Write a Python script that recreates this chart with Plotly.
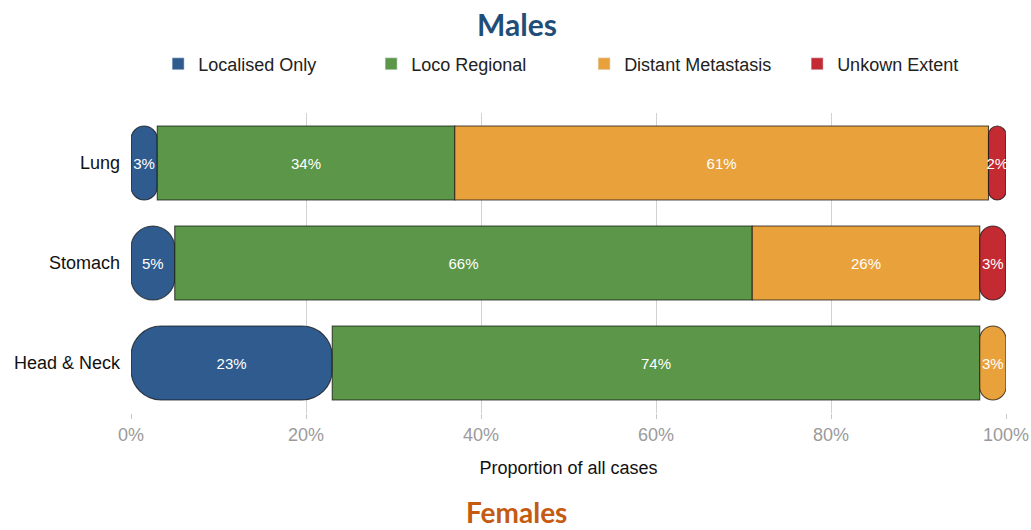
import plotly.graph_objects as go

# Stage at diagnosis, males (proportion of all cases, %)
categories = ["Lung", "Stomach", "Head & Neck"]
series_names = ["Localised Only", "Loco Regional", "Distant Metastasis", "Unkown Extent"]
localised_only = [3, 5, 23]
loco_regional = [34, 66, 74]
distant_metastasis = [61, 26, 3]
unknown_extent = [2, 3, 0]
x_ticks = [0, 20, 40, 60, 80, 100]

series_values = [localised_only, loco_regional, distant_metastasis, unknown_extent]
series_colors = ["#2f5b8e", "#5b9649", "#e9a23b", "#c42a32"]

RADIUS = 30
font = "Liberation Sans, Arial, sans-serif"

# last non-empty segment of every row, so it can get the rounded right end
row_last = []
for i in range(len(categories)):
    last = None
    for s, values in enumerate(series_values):
        if values[i] > 0:
            last = s
    row_last.append(last)

fig = go.Figure()

# legend-only entries, plain squares
for name, color in zip(series_names, series_colors):
    fig.add_trace(
        go.Bar(
            name=name,
            legendgroup=name,
            x=[None],
            y=[None],
            orientation="h",
            marker={"color": color},
            showlegend=True,
            hoverinfo="skip",
        )
    )

cumulative = [0] * len(categories)
for s, (name, values, color) in enumerate(zip(series_names, series_values, series_colors)):
    parts = {"first": ([], [], [], []), "mid": ([], [], [], []), "last": ([], [], [], [])}
    for i, cat in enumerate(categories):
        v = values[i]
        if v <= 0:
            continue
        start = cumulative[i]
        end = start + v
        if start == 0:
            # drawn backwards from its end so that the rounded corner is on the left
            role, base, length = "first", end, -v
        elif row_last[i] == s:
            role, base, length = "last", start, v
        else:
            role, base, length = "mid", start, v
        ys, bases, xs, texts = parts[role]
        ys.append(cat)
        bases.append(base)
        xs.append(length)
        texts.append(f"{v}%")
        cumulative[i] = end

    for role, (ys, bases, xs, texts) in parts.items():
        if not ys:
            continue
        fig.add_trace(
            go.Bar(
                name=name,
                legendgroup=name,
                showlegend=False,
                orientation="h",
                y=ys,
                x=xs,
                base=bases,
                text=texts,
                textposition="inside",
                insidetextanchor="middle",
                constraintext="none",
                textangle=0,
                textfont={"color": "white", "size": 15, "family": font},
                marker={
                    "color": color,
                    "line": {"color": "rgba(20,20,20,0.75)", "width": 1.1},
                    "cornerradius": RADIUS if role != "mid" else 0,
                },
                hovertemplate=f"{name}<br>%{{y}}: %{{text}}<extra></extra>",
            )
        )

fig.update_layout(
    width=1031,
    height=530,
    barmode="overlay",
    bargap=0.26,
    plot_bgcolor="white",
    paper_bgcolor="white",
    margin={"l": 131, "r": 25, "t": 113, "b": 117, "autoexpand": False},
    font={"family": font, "size": 18, "color": "#222"},
    uniformtext={"minsize": 15, "mode": "show"},
    showlegend=True,
    legend={
        "orientation": "h",
        "x": 0.031,
        "xanchor": "left",
        "y": 1.163,
        "yanchor": "middle",
        "font": {"size": 18, "color": "#222"},
        "entrywidth": 168,
        "entrywidthmode": "pixels",
        "traceorder": "normal",
    },
    annotations=[
        {
            "text": "<b>Males</b>",
            "xref": "paper",
            "yref": "paper",
            "x": 0.441,
            "y": 1.297,
            "xanchor": "center",
            "yanchor": "middle",
            "showarrow": False,
            "font": {"family": "Lato, sans-serif", "size": 30, "color": "#1f4e79"},
        },
        {
            "text": "<b>Females</b>",
            "xref": "paper",
            "yref": "paper",
            "x": 0.441,
            "y": -0.33,
            "xanchor": "center",
            "yanchor": "middle",
            "showarrow": False,
            "font": {"family": "Lato, sans-serif", "size": 28, "color": "#c55a11"},
        },
    ],
)

fig.update_xaxes(
    range=[0, 100],
    tickmode="array",
    tickvals=x_ticks,
    ticktext=[f"{t}%" for t in x_ticks],
    showgrid=True,
    gridcolor="#d2d2d2",
    gridwidth=1,
    zeroline=False,
    showline=False,
    ticks="outside",
    ticklen=5,
    tickcolor="#c8c8c8",
    tickfont={"size": 18, "color": "#9a9a9a"},
    title={"text": "Proportion of all cases", "font": {"size": 18, "color": "#111"}, "standoff": 17},
    automargin=False,
    fixedrange=True,
)
fig.update_yaxes(
    type="category",
    categoryorder="array",
    categoryarray=categories,
    autorange="reversed",
    showgrid=False,
    ticks="",
    ticklabelstandoff=10,
    tickfont={"size": 18, "color": "#111"},
    automargin=False,
    fixedrange=True,
)

# drop the page's default body margin so the figure fills the window exactly
fig.write_html(
    "out.html",
    config={"displayModeBar": False},
    post_script="document.body.style.margin = '0px';",
)
